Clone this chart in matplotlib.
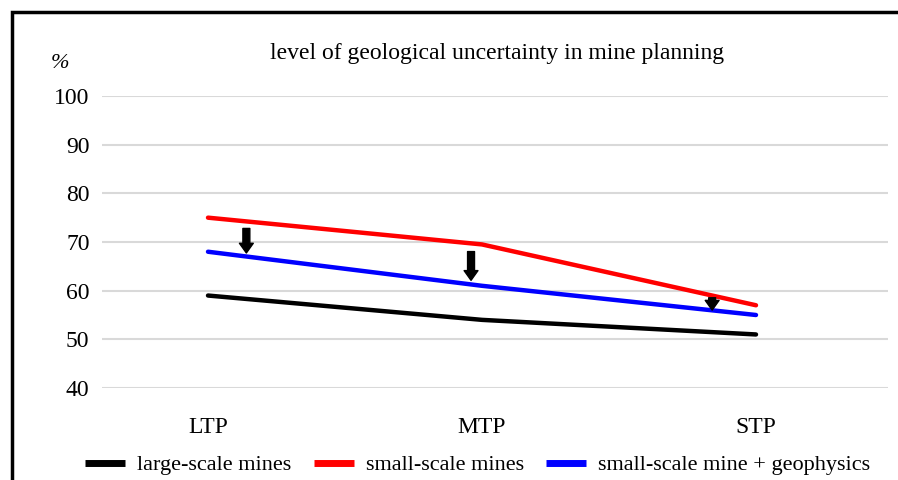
import matplotlib
matplotlib.use("Agg")
import matplotlib.pyplot as plt
import numpy as np
from matplotlib.patches import Rectangle

categories = ["LTP", "MTP", "STP"]
large_scale = [59, 54, 51]
small_scale = [75, 69.5, 57]
small_geo = [68, 61, 55]
yticks = [40, 50, 60, 70, 80, 90, 100]
title = "level of geological uncertainty in mine planning"
arrow_x = [0.14, 0.96, 1.84]

plt.rcParams['font.family'] = ['Liberation Serif', 'DejaVu Serif']

fig = plt.figure(figsize=(8.98, 4.8), dpi=100)
W, H = 898, 480
ax = fig.add_axes([102 / W, 1 - 388 / H, (888 - 102) / W, (388 - 96) / H])

x = np.arange(len(categories))
ax.plot(x, large_scale, color='black', lw=3.2, solid_capstyle='round', label='large-scale mines', zorder=3)
ax.plot(x, small_scale, color='#ff0000', lw=3.2, solid_capstyle='round', label='small-scale mines', zorder=3)
ax.plot(x, small_geo, color='#0000ff', lw=3.2, solid_capstyle='round', label='small-scale mine + geophysics', zorder=3)

# arrows from red towards blue line
for ax_x in arrow_x:
    r = np.interp(ax_x, x, small_scale)
    b = np.interp(ax_x, x, small_geo)
    gap = r - b
    start = r - 0.2 * gap if gap > 4 else r - 0.15 * gap
    end = b + 0.1 * gap if gap > 4 else b + 0.05
    ax.annotate('', xy=(ax_x, end), xytext=(ax_x, start),
                arrowprops=dict(arrowstyle='simple,head_width=1.0,head_length=0.7,tail_width=0.5',
                                color='black', shrinkA=0, shrinkB=0), zorder=4)

ax.set_xlim(-(208 - 102) / 274, 2 + (888 - 756) / 274)
ax.set_ylim(40, 100)
ax.set_yticks(yticks)
ax.set_xticks(x)
ax.set_xticklabels(categories)
ax.grid(axis='y', color='#d9d9d9', lw=1.5)
ax.set_axisbelow(True)
for s in ax.spines.values():
    s.set_visible(False)
ax.tick_params(axis='both', length=0, labelsize=17)
ax.tick_params(axis='y', pad=9)
ax.tick_params(axis='x', pad=21)

fig.text(497 / W, 1 - 53 / H, title, ha='center', va='center', fontsize=17)
fig.text(60 / W, 1 - 64 / H, '%', ha='center', va='center', fontsize=16, style='italic')

leg = fig.legend(loc='center left', bbox_to_anchor=(85 / W, 1 - 465 / H), ncol=3, frameon=False,
                 fontsize=16, handlelength=1.8, handletextpad=0.55, columnspacing=1.0,
                 borderaxespad=0, borderpad=0)
for line in leg.get_lines():
    line.set_linewidth(5)
    line.set_solid_capstyle('butt')

fig.patches.append(Rectangle((12 / W, -0.1), 1.2, 1 - 12 / H + 0.1, transform=fig.transFigure,
                             fill=False, edgecolor='black', lw=2.5))

fig.savefig('out.png', dpi=100)
